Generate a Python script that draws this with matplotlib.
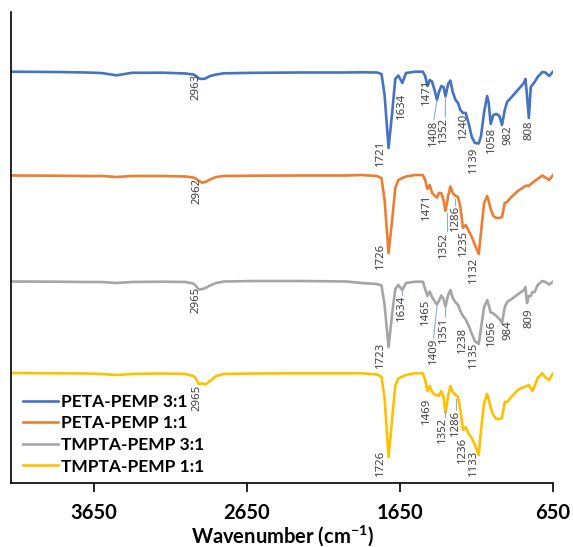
import matplotlib
matplotlib.use('Agg')
import matplotlib.pyplot as plt

# FTIR spectra (values are transmittance in arbitrary, stacked units)
wavenumber = [4190, 3900, 3700, 3600, 3500, 3400, 3200, 3050, 3000, 2985,
              2963, 2940, 2920, 2890, 2850, 2800, 2600, 2300, 2000, 1900,
              1800, 1770, 1750, 1724, 1700, 1680, 1660, 1634, 1610, 1550,
              1500, 1485, 1470, 1455, 1440, 1420, 1408, 1395, 1380, 1365,
              1352, 1335, 1320, 1305, 1286, 1270, 1255, 1238, 1220, 1200,
              1180, 1160, 1135, 1120, 1100, 1080, 1070, 1057, 1040, 1020,
              1000, 983, 965, 950, 920, 880, 840, 830, 820, 808,
              795, 785, 770, 750, 720, 700, 675, 650]

peta_31 = [411.3, 411, 410.5, 410, 407.7, 410.2, 410.3, 409.5, 408.5, 407.5,
           404.5, 404, 404.5, 407, 408.5, 409.7, 410.2, 410.5, 410.5, 410.7,
           410.5, 409, 388, 335, 371, 404, 407.5, 400, 410, 411.3,
           411.3, 407, 397, 403, 401.5, 391, 383, 391, 397, 396,
           386.5, 399, 402.5, 391, 383, 380, 373, 370, 370, 359,
           346, 340, 339.5, 347, 371, 387, 380, 359, 368, 369,
           367, 358, 373, 381, 386, 393, 400, 404, 388, 365,
           396, 398, 401, 406, 411, 410.5, 407, 411.3]

peta_11 = [307.5, 307.3, 307, 307, 306, 307, 307, 306.5, 305.5, 304.5,
           302, 300.3, 301, 303.5, 306, 307, 307.3, 307.5, 307.5, 308,
           307, 304.7, 283, 230, 264, 295, 303, 305, 306.5, 308,
           308, 303, 294, 298, 290, 287, 285.5, 290, 290, 283,
           272, 287, 296.5, 290, 287, 286, 276, 255, 258, 252,
           246, 238, 229, 251, 280, 287, 282, 274, 267, 265,
           265, 266, 280, 281, 286.3, 292, 296, 297, 297.5, 297,
           299, 300, 302, 304, 307.5, 305.5, 303, 308]

tmpta_31 = [201.5, 201.3, 201, 201, 200, 201, 201.3, 201, 199.5, 197.5,
            193.5, 194, 195, 197.5, 200, 201.5, 202, 202, 201.5, 200,
            199, 197.5, 178, 136, 170, 194, 198, 193, 200, 201.3,
            201.3, 194, 187, 191.5, 186, 181, 178.5, 182, 187.5, 184,
            176.5, 188, 193, 185, 180.5, 178, 172, 167, 163.5, 157,
            149, 142, 139, 155, 176, 183, 178, 170.5, 169.7, 167,
            164, 160, 176, 181, 184, 188.5, 193, 196, 180, 187,
            187, 191, 191, 198, 202, 201, 198.5, 201.3]

tmpta_11 = [110, 109.7, 109.5, 109, 108, 109, 109.5, 109, 107, 105,
            99, 99.5, 98.5, 102, 107, 109, 109.5, 109.7, 109.7, 109.7,
            108.5, 106, 85, 26, 65, 97, 104.5, 106.5, 108, 109.7,
            109.7, 103, 92, 97, 91, 88, 88, 87, 92, 86,
            70, 87, 97, 91, 88, 86, 73, 53, 56, 49,
            45, 38, 28, 53, 80, 89, 84, 75, 68, 64,
            64, 65, 81, 81, 86.3, 93, 96, 96.3, 97, 98,
            95, 92, 97, 105, 109.7, 105.5, 103, 109.7]

series_names = ['PETA-PEMP 3:1', 'PETA-PEMP 1:1', 'TMPTA-PEMP 3:1', 'TMPTA-PEMP 1:1']
series_colors = ['#4472C4', '#ED7D31', '#A5A5A5', '#FFC000']

# peak labels: (text, wavenumber, top of label)
peak_labels = [
    ('2963', 2979, 409), ('1721', 1780, 343), ('1634', 1639, 390),
    ('1471', 1475, 404), ('1408', 1432, 363), ('1352', 1364, 366),
    ('1240', 1236, 370), ('1139', 1171, 336), ('1058', 1055, 356),
    ('982', 942, 358), ('808', 805, 363),
    ('2962', 2977, 305), ('1726', 1780, 240), ('1471', 1475, 289),
    ('1352', 1367, 251), ('1286', 1286, 278), ('1235', 1236, 253),
    ('1132', 1171, 226),
    ('2965', 2979, 196), ('1723', 1780, 141), ('1634', 1639, 188),
    ('1465', 1482, 184), ('1409', 1428, 145), ('1351', 1367, 166),
    ('1238', 1240, 156), ('1135', 1171, 141), ('1056', 1055, 163),
    ('984', 942, 163), ('809', 805, 175),
    ('2965', 2977, 98), ('1726', 1780, 33), ('1469', 1475, 85),
    ('1352', 1371, 66), ('1286', 1286, 73), ('1236', 1240, 46),
    ('1133', 1171, 33),
]

# leader lines from peak to label
leaders = [
    ((1408, 383), (1428, 363)), ((1352, 386), (1353, 366)),
    ((1343, 270), (1343, 252)), ((1290, 284), (1290, 278)),
    ((1634, 195), (1634, 188)), ((1407, 178), (1430, 145)),
    ((1351, 176), (1353, 166)),
    ((1355, 72), (1355, 66)), ((1284, 84), (1284, 73)),
]

plt.rcParams['mathtext.fontset'] = 'custom'
plt.rcParams['mathtext.rm'] = 'Lato:bold'
plt.rcParams['mathtext.default'] = 'rm'

fig = plt.figure(figsize=(5.73, 5.47), dpi=100)
ax = fig.add_axes([11 / 573, 64 / 547, 542 / 573, 471 / 547])

for vals, name, col in zip([peta_31, peta_11, tmpta_31, tmpta_11], series_names, series_colors):
    ax.plot(wavenumber, vals, color=col, lw=1.9, label=name, solid_joinstyle='round')

for (x0, y0), (x1, y1) in leaders:
    ax.plot([x0, x1], [y0, y1], color='#8FAADC', lw=0.8)

for txt, wn, top in peak_labels:
    ax.text(wn, top, txt, rotation=90, ha='center', va='top',
            fontsize=8.2, color='#404040', family='Noto Sans')

ax.set_xlim(4190, 650)
ax.set_ylim(0, 471)
ax.set_xticks([3650, 2650, 1650, 650])
ax.set_yticks([])
for lab in ax.get_xticklabels():
    lab.set_fontfamily('Lato')
    lab.set_fontweight('bold')
    lab.set_fontsize(14.5)
ax.tick_params(axis='x', direction='out', length=6.5, width=1.2, pad=8)
ax.spines['top'].set_visible(False)
ax.spines['right'].set_visible(False)
ax.spines['left'].set_linewidth(1.2)
ax.spines['bottom'].set_linewidth(1.2)

ax.set_xlabel(r'Wavenumber (cm$^{-1}$)', fontsize=14.5, fontweight='bold',
              family='Lato', labelpad=0)

leg = ax.legend(loc='lower left', bbox_to_anchor=(0.022, 0.018), frameon=False,
                prop={'family': 'Lato', 'weight': 'bold', 'size': 12.5},
                handlelength=2.0, handletextpad=0.2, labelspacing=0.32,
                borderaxespad=0, borderpad=0)

fig.savefig('out.png', dpi=100)
